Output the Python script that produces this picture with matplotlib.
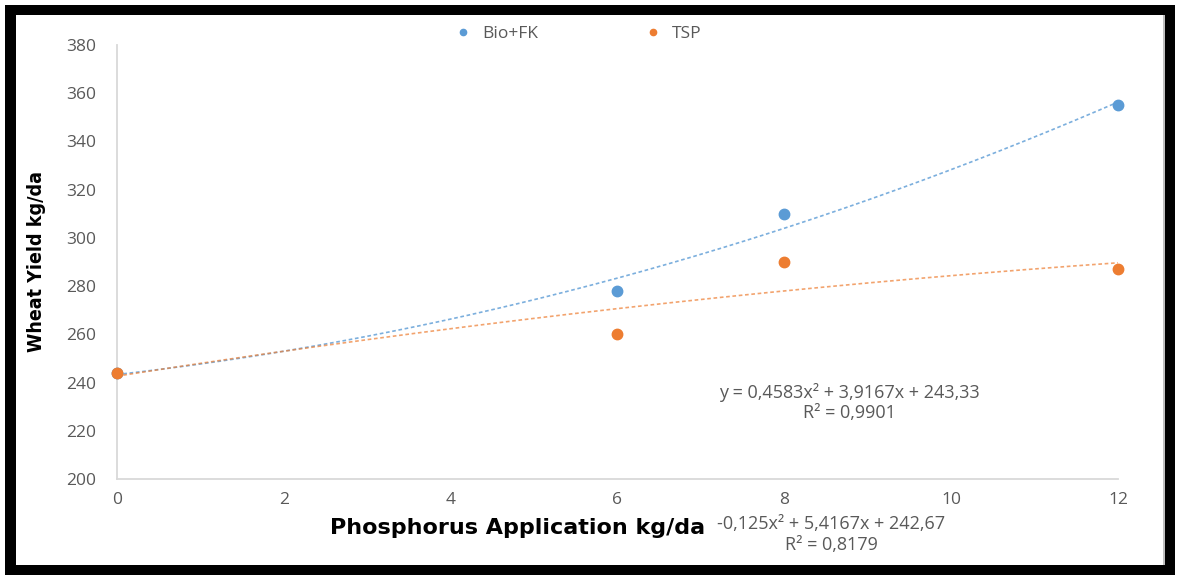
import numpy as np
import matplotlib
matplotlib.use("Agg")
import matplotlib.pyplot as plt
from matplotlib.patches import Rectangle

# ---- data ----
x_levels = [0, 6, 8, 12]
bio_fk = [244, 278, 310, 355]
tsp = [244, 260, 290, 287]
bio_coef = [0.4583, 3.9167, 243.33]   # quadratic trend y = a x^2 + b x + c
tsp_coef = [-0.125, 5.4167, 242.67]
x_ticks = [0, 2, 4, 6, 8, 10, 12]
y_ticks = [200, 220, 240, 260, 280, 300, 320, 340, 360, 380]
series_names = ["Bio+FK", "TSP"]
bio_eq = ["y = 0,4583x² + 3,9167x + 243,33", "R² = 0,9901"]
tsp_eq = ["-0,125x² + 5,4167x + 242,67", "R² = 0,8179"]

BLUE = "#5B9BD5"
ORANGE = "#ED7D31"
TICK_C = "#595959"
FS = 12.5

W, H = 1178, 577
fig = plt.figure(figsize=(W / 100, H / 100), dpi=100)
fig.patch.set_facecolor("white")

def fx(px):
    return px / W

def fy(py):
    return 1 - py / H

ax = fig.add_axes([fx(117), fy(479), fx(1118) - fx(117), fy(45) - fy(479)])
ax.set_xlim(0, 12)
ax.set_ylim(200, 380)

xs = np.linspace(0, 12, 200)
ax.plot(xs, np.polyval(bio_coef, xs), color=BLUE, lw=1.2, ls=(0, (2.2, 1.6)), alpha=0.8, zorder=2)
ax.plot(xs, np.polyval(tsp_coef, xs), color=ORANGE, lw=1.2, ls=(0, (2.2, 1.6)), alpha=0.7, zorder=2)

ax.plot(x_levels, bio_fk, ls="none", marker="o", ms=7.5, color=BLUE, label=series_names[0], clip_on=False, zorder=3)
ax.plot(x_levels, tsp, ls="none", marker="o", ms=7.5, color=ORANGE, label=series_names[1], clip_on=False, zorder=4)

for s in ["top", "right"]:
    ax.spines[s].set_visible(False)
for s in ["left", "bottom"]:
    ax.spines[s].set_color("#D9D9D9")
    ax.spines[s].set_linewidth(1.3)

ax.set_xticks(x_ticks)
ax.set_yticks(y_ticks)
ax.tick_params(axis="both", length=0, labelsize=FS, labelcolor=TICK_C)
ax.tick_params(axis="y", pad=15)
ax.tick_params(axis="x", pad=9)
for lab in ax.get_xticklabels() + ax.get_yticklabels():
    lab.set_family("Open Sans")

leg = ax.legend(loc="center", bbox_to_anchor=(fx(574), fy(34)), bbox_transform=fig.transFigure,
                ncol=2, frameon=False, handletextpad=0.1, columnspacing=5.6,
                markerscale=0.6, prop={"family": "Open Sans", "size": FS})
for t in leg.get_texts():
    t.set_color(TICK_C)

fig.text(fx(37), fy(262), "Wheat Yield kg/da", rotation=90, ha="center", va="center",
         fontsize=14, fontweight="bold", family="DejaVu Sans", fontstretch="condensed", color="black")
fig.text(fx(518), fy(528), "Phosphorus Application kg/da", ha="center", va="center",
         fontsize=16, fontweight="bold", family="DejaVu Sans", color="black")

for i, line in enumerate(bio_eq):
    fig.text(fx(849), fy(393 + 20 * i), line, ha="center", va="center", fontsize=13,
             family="Open Sans", color=TICK_C)
for i, line in enumerate(tsp_eq):
    fig.text(fx(831), fy(524 + 21 * i), line, ha="center", va="center", fontsize=13,
             family="Open Sans", color=TICK_C)

# black frame
def rect(x0, y0, x1, y1, color="black"):
    fig.add_artist(Rectangle((fx(x0), fy(y1)), fx(x1) - fx(x0), fy(y0) - fy(y1),
                             transform=fig.transFigure, facecolor=color, edgecolor="none", zorder=10))

rect(5, 5, 1175, 15)
rect(5, 565, 1175, 575)
rect(5, 5, 16, 575)
rect(1163, 15, 1165, 565, color="#BFBFBF")
rect(1165, 5, 1175, 575)

fig.savefig("out.png", dpi=100, facecolor="white")
